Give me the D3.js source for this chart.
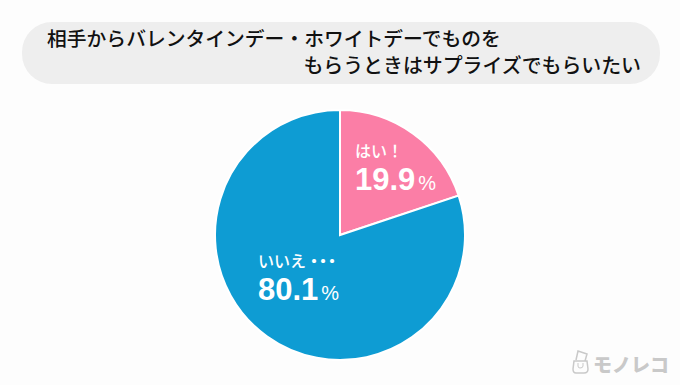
<!DOCTYPE html>
<html>
<head>
<meta charset="utf-8">
<script src="https://cdn.jsdelivr.net/npm/d3@7"></script>
<style>
  html, body { margin: 0; padding: 0; background: #fff; }
  text { font-family: "Noto Sans CJK JP", sans-serif; }
  .num { font-family: "Liberation Sans", sans-serif; font-weight: 700; }
</style>
</head>
<body>
<svg id="chart"></svg>
<script>
const categories = ["はい！", "いいえ・・・"];
const values = [19.9, 80.1];
const colors = ["#fb7ea6", "#0e9cd3"];
const titleLines = ["相手からバレンタインデー・ホワイトデーでものを", "もらうときはサプライズでもらいたい"];
const logoLabel = "モノレコ";

const width = 680;
const height = 385;
const cx = 340;
const cy = 235;
const radius = 125;

const svg = d3.select("#chart")
  .attr("width", width)
  .attr("height", height)
  .style("display", "block");

svg.append("rect")
  .attr("width", width)
  .attr("height", height)
  .attr("fill", "#fdfdfd");

// title pill
svg.append("rect")
  .attr("x", 22)
  .attr("y", 22)
  .attr("width", 638)
  .attr("height", 62)
  .attr("rx", 30)
  .attr("fill", "#eeeeee");

svg.append("text")
  .attr("x", 47)
  .attr("y", 46)
  .attr("font-size", 19.8)
  .attr("font-weight", 500)
  .attr("fill", "#111")
  .text(titleLines[0]);

svg.append("text")
  .attr("x", 641)
  .attr("y", 73)
  .attr("text-anchor", "end")
  .attr("font-size", 19.9)
  .attr("font-weight", 500)
  .attr("fill", "#111")
  .text(titleLines[1]);

// pie, clockwise from 12 o'clock
const pie = d3.pie().sort(null)(values);
const arc = d3.arc().innerRadius(0).outerRadius(radius);

const g = svg.append("g").attr("transform", `translate(${cx},${cy})`);

g.selectAll("path")
  .data(pie)
  .join("path")
  .attr("d", arc)
  .attr("fill", (d, i) => colors[i])
  .attr("stroke", "#fff")
  .attr("stroke-width", 2);

// slice labels
const labelX = [355, 258];
const labelY = [157, 267];
const numberY = [190, 300];

categories.forEach((c, i) => {
  const label = svg.append("text")
    .attr("x", labelX[i])
    .attr("y", labelY[i])
    .attr("font-size", 16)
    .attr("font-weight", 500)
    .attr("fill", "#fff");
  // the dots sit closer together than full width
  const word = c.replace(/・+$/, "");
  label.append("tspan").text(word);
  label.append("tspan").attr("font-weight", 700).attr("letter-spacing", -7).text(c.slice(word.length));

  const t = svg.append("text")
    .attr("x", labelX[i])
    .attr("y", numberY[i])
    .attr("fill", "#fff");
  t.append("tspan")
    .attr("class", "num")
    .attr("font-size", 31)
    .text(values[i].toFixed(1));
  t.append("tspan")
    .attr("dx", 3)
    .attr("font-family", "Liberation Sans, sans-serif")
    .attr("font-size", 20)
    .text("%");
});

// logo
const logo = svg.append("g").attr("fill", "none").attr("stroke", "#c9c9c9").attr("stroke-width", 1.5);
logo.append("path").attr("d", "M574 361 h13 l1 8 q0 4 -4 4 h-8 q-3 0 -3 -4 z");
logo.append("path").attr("d", "M576 360 l2 -9 l9 3 l-2 7");
logo.append("path").attr("d", "M578 363 v3 q0 2 2 2 q3 0 3 -2 v-3").attr("stroke-width", 1);

svg.append("text")
  .attr("x", 593)
  .attr("y", 372)
  .attr("font-size", 19)
  .attr("font-weight", 900)
  .attr("fill", "#c9c9c9")
  .text(logoLabel);
</script>
</body>
</html>
